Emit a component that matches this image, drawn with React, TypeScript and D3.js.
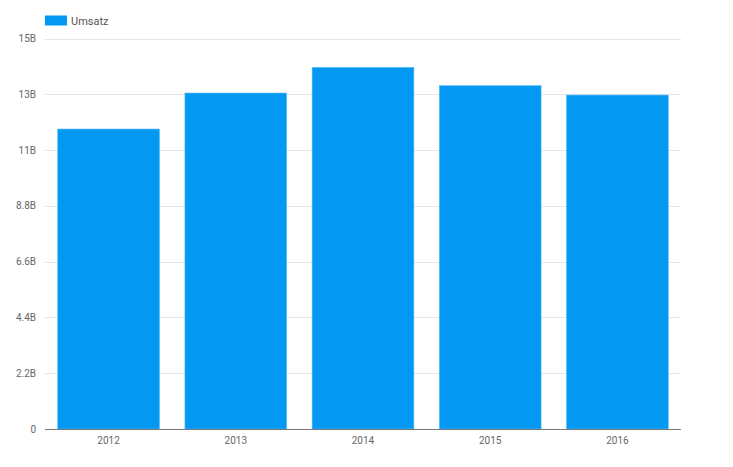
import React from "react";
import * as d3 from "d3";

const years = ["2012", "2013", "2014", "2015", "2016"];
const umsatz = [11.83e9, 13.25e9, 14.26e9, 13.54e9, 13.17e9];
const yTicks = [0, 2.2e9, 4.4e9, 6.6e9, 8.8e9, 11e9, 13.2e9, 15.4e9];
const seriesName = "Umsatz";

const W = 733;
const H = 467;
const M = { left: 45, right: 52, top: 38.5, bottom: 38 };

export default function App() {
  const x = d3
    .scaleBand<string>()
    .domain(years)
    .range([M.left, W - M.right])
    .paddingInner(0.2)
    .paddingOuter(0.1);
  const y = d3
    .scaleLinear()
    .domain([0, 15.4e9])
    .range([H - M.bottom, M.top]);
  const fmt = (v: number) =>
    v === 0 ? "0" : d3.format(".2s")(v).replace("G", "B");
  const font = "Roboto, Arial, sans-serif";
  const color = "#0399f3";
  return (
    <svg
      width={W}
      height={H}
      style={{ position: "absolute", left: 0, top: 0, background: "#fff" }}
      fontFamily={font}
    >
      <rect x={45} y={15.5} width={22} height={10} fill={color} />
      <text x={71} y={24.5} fontSize={11} fill="#555">
        {seriesName}
      </text>
      {yTicks.map((t) => (
        <g key={t}>
          {t !== 0 && (
            <line
              x1={M.left}
              x2={W - M.right}
              y1={Math.round(y(t)) + 0.5}
              y2={Math.round(y(t)) + 0.5}
              stroke="#e6e6e6"
            />
          )}
          <text
            x={36}
            y={y(t) + 3.5}
            textAnchor="end"
            fontSize={10}
            fill="#666"
          >
            {fmt(t)}
          </text>
        </g>
      ))}
      {years.map((yr, i) => (
        <rect
          key={yr}
          x={x(yr)!}
          y={y(umsatz[i])}
          width={x.bandwidth()}
          height={y(0) - y(umsatz[i])}
          fill={color}
          stroke="#5cbcf7"
          strokeWidth={0.6}
        />
      ))}
      <line
        x1={M.left}
        x2={W - M.right}
        y1={Math.round(y(0)) + 0.5}
        y2={Math.round(y(0)) + 0.5}
        stroke="#777"
      />
      {years.map((yr) => (
        <text
          key={yr}
          x={x(yr)! + x.bandwidth() / 2}
          y={444}
          textAnchor="middle"
          fontSize={10}
          fill="#666"
        >
          {yr}
        </text>
      ))}
    </svg>
  );
}
